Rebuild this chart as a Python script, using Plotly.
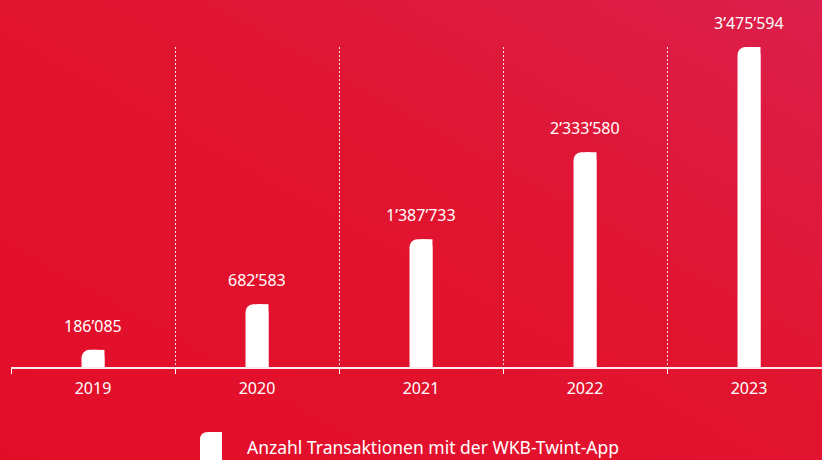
import base64
import plotly.graph_objects as go

years = ["2019", "2020", "2021", "2022", "2023"]
transactions = [186085, 682583, 1387733, 2333580, 3475594]
series_name = "Anzahl Transaktionen mit der WKB-Twint-App"

labels = [f"{v:,}".replace(",", "\u2019") for v in transactions]

W, H = 822, 460
ML, MT, MB = 11, 47, 93
PW = 811
PH = H - MT - MB
CAT_PX = 164
FONT = "Noto Sans"

svg = (
    '<svg xmlns="http://www.w3.org/2000/svg" width="822" height="460" preserveAspectRatio="none">'
    '<defs><linearGradient id="g" x1="0" y1="1" x2="1" y2="0">'
    '<stop offset="0" stop-color="#e30d29"/>'
    '<stop offset="0.55" stop-color="#e1142f"/>'
    '<stop offset="1" stop-color="#db1f4c"/>'
    '</linearGradient></defs><rect width="822" height="460" fill="url(#g)"/></svg>'
)
bg_uri = "data:image/svg+xml;base64," + base64.b64encode(svg.encode()).decode()

fig = go.Figure()
bw = 0.14
fig.add_trace(go.Bar(
    x=years, y=transactions, width=bw,
    marker=dict(color="white", cornerradius=8, line=dict(width=0)),
    hoverinfo="skip", showlegend=False,
))
fig.add_trace(go.Bar(
    x=years, y=transactions, width=bw / 2, offset=0,
    marker=dict(color="white", line=dict(width=0)),
    hoverinfo="skip", showlegend=False,
))

for i, (v, lab) in enumerate(zip(transactions, labels)):
    fig.add_annotation(
        x=i, y=v, xref="x", yref="y", text=lab, showarrow=False,
        yanchor="middle", yshift=24,
        font=dict(family=FONT, size=16, color="white"),
    )

# legend (manual)
def px_x(p):
    return (p - ML) / PW

def px_y(p):
    return (H - MB - p) / PH

lx0, lx1, ly0, ly1, r = 200, 222, 432, 475, 8
path = (
    f"M {px_x(lx0)} {px_y(ly1)} L {px_x(lx0)} {px_y(ly0 + r)} "
    f"Q {px_x(lx0)} {px_y(ly0)} {px_x(lx0 + r)} {px_y(ly0)} "
    f"L {px_x(lx1)} {px_y(ly0)} L {px_x(lx1)} {px_y(ly1)} Z"
)
fig.add_shape(type="path", path=path, xref="paper", yref="paper",
              fillcolor="white", line=dict(width=0), layer="above")
fig.add_annotation(
    x=px_x(245), y=px_y(447), xref="paper", yref="paper", xanchor="left",
    yanchor="middle", text=series_name, showarrow=False,
    font=dict(family=FONT, size=17.5, color="white"),
)

fig.update_layout(
    width=W, height=H,
    margin=dict(l=ML, r=0, t=MT, b=MB, pad=0),
    paper_bgcolor="#e1142f", plot_bgcolor="rgba(0,0,0,0)",
    barmode="overlay", showlegend=False,
    images=[dict(
        source=bg_uri, xref="paper", yref="paper",
        x=-ML / PW, y=1 + MT / PH, sizex=W / PW, sizey=H / PH,
        xanchor="left", yanchor="top", sizing="stretch", layer="below",
    )],
    xaxis=dict(
        type="category", categoryorder="array", categoryarray=years,
        range=[-0.5, -0.5 + PW / CAT_PX],
        tickson="boundaries", ticks="outside", ticklen=5, tickwidth=1,
        tickcolor="white", showline=True, linecolor="rgba(255,255,255,0.9)",
        linewidth=1.5, showgrid=True, gridcolor="rgba(255,255,255,0.85)",
        griddash="2px,2px", gridwidth=1, ticklabelstandoff=6,
        tickfont=dict(family=FONT, size=16, color="white"), fixedrange=True,
    ),
    yaxis=dict(range=[0, max(transactions)], visible=False, showgrid=False,
               zeroline=False, fixedrange=True),
)

fig.write_html(
    "out.html",
    config={"displayModeBar": False},
    post_script="document.body.style.margin='0';document.body.style.overflow='hidden';",
)
